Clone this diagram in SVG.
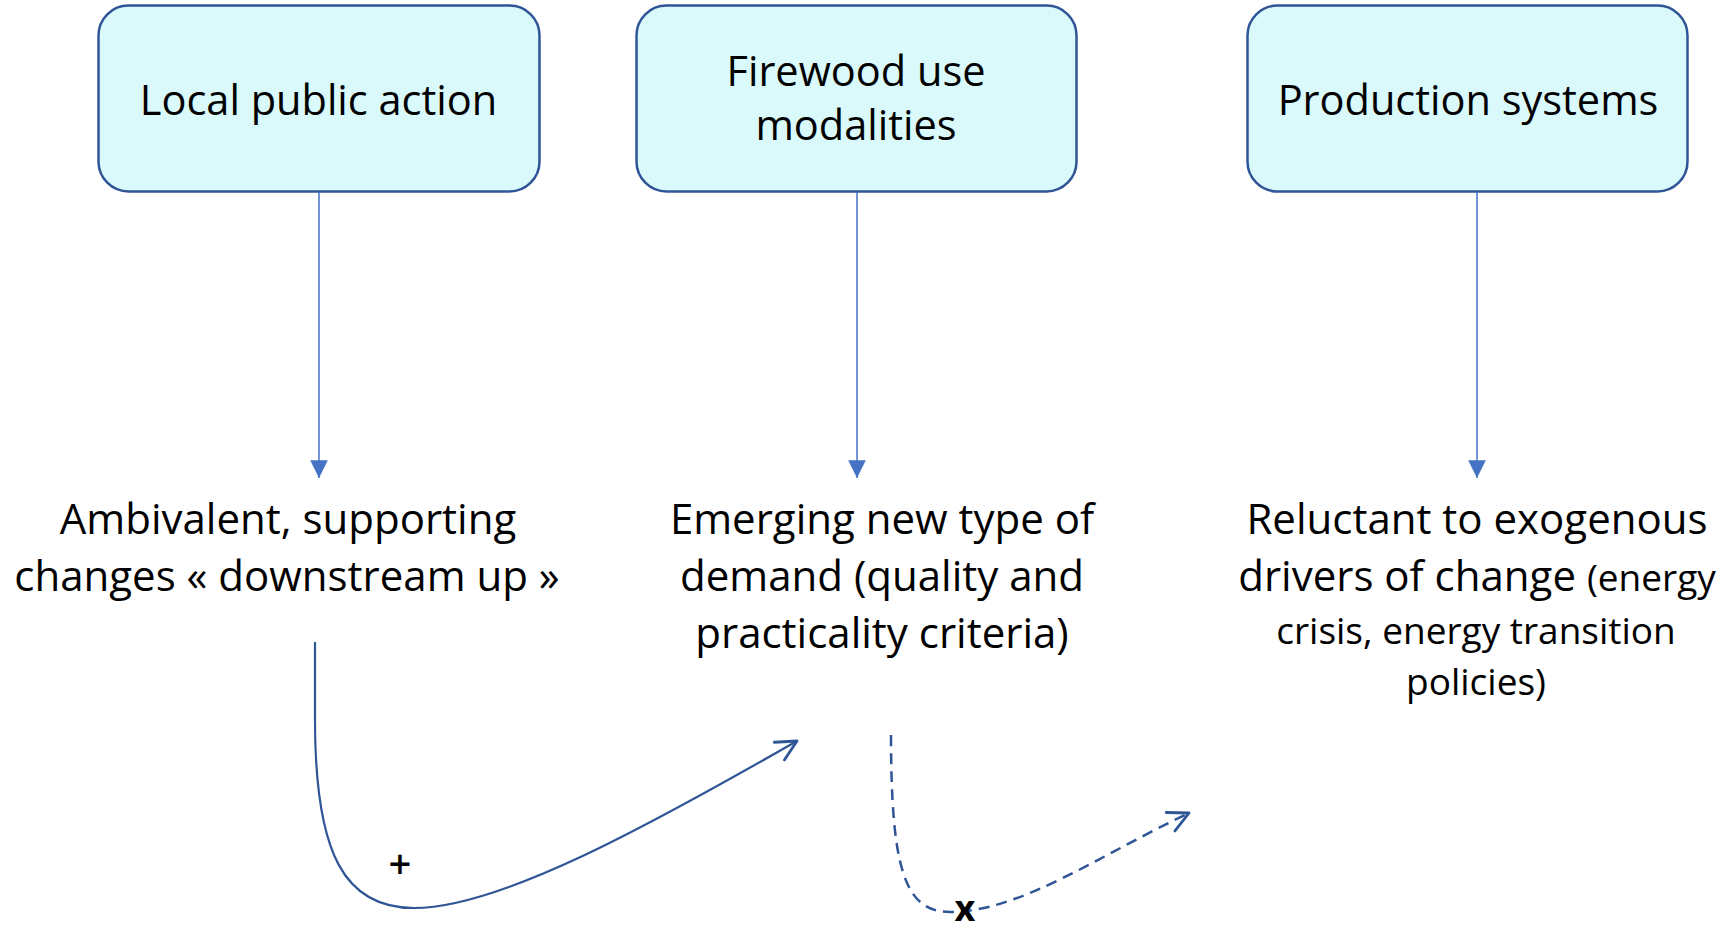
<svg xmlns="http://www.w3.org/2000/svg" width="1729" height="930" viewBox="0 0 1729 930">
  <style>
    .box { fill: #DAF9FA; stroke: #2F5597; stroke-width: 2.5; }
    .t { font-family: "Open Sans", "Liberation Sans", sans-serif; fill: #000; text-anchor: middle; }
    .big { font-size: 41.5px; }
    .lbl { font-size: 42px; }
    .sm { font-size: 37px; }
    .drop { stroke: #4472C4; stroke-width: 1.5; fill: none; marker-end: url(#tri); }
    .flow { stroke: #2F5597; stroke-width: 2.2; fill: none; marker-end: url(#vee); }
    .dash { stroke-width: 2.5; stroke-dasharray: 11 7; }
  </style>
  <defs>
    <marker id="tri" markerUnits="userSpaceOnUse" markerWidth="20" markerHeight="20" viewBox="-16 -8 17 16" refX="0" refY="0" orient="auto">
      <path d="M-15,-7.5 L0,0 L-15,7.5 Z" fill="#4472C4"/>
    </marker>
    <marker id="vee" markerUnits="userSpaceOnUse" markerWidth="26" markerHeight="26" viewBox="-21 -11 23 22" refX="0" refY="0" orient="auto">
      <path d="M-18,-9 L0,0 L-18,9" fill="none" stroke="#2F5597" stroke-width="2.5" stroke-linecap="round" stroke-linejoin="round"/>
    </marker>
  </defs>

  <!-- top row: the three actors -->
  <g id="node-local-public-action">
    <rect class="box" x="98.5" y="5.5" width="441" height="186" rx="30"/>
    <text class="t big" x="318.5" y="115">Local public action</text>
  </g>
  <g id="node-firewood-use">
    <rect class="box" x="636.5" y="5.5" width="440" height="186" rx="30"/>
    <text class="t big" x="856" y="86">Firewood use</text>
    <text class="t big" x="856" y="140">modalities</text>
  </g>
  <g id="node-production-systems">
    <rect class="box" x="1247.5" y="5.5" width="440" height="186" rx="30"/>
    <text class="t big" x="1468" y="115">Production systems</text>
  </g>

  <!-- bottom row: how each actor behaves -->
  <g id="node-ambivalent">
    <text class="t lbl" x="288" y="534">Ambivalent, supporting</text>
    <text class="t lbl" x="287" y="591">changes « downstream up »</text>
  </g>
  <g id="node-emerging-demand">
    <text class="t lbl" x="882" y="534">Emerging new type of</text>
    <text class="t lbl" x="882" y="591">demand (quality and</text>
    <text class="t lbl" x="882" y="648">practicality criteria)</text>
  </g>
  <g id="node-reluctant">
    <text class="t lbl" x="1477" y="534">Reluctant to exogenous</text>
    <text class="t lbl" x="1477" y="591">drivers of change <tspan class="sm">(energy</tspan></text>
    <text class="t sm" x="1476" y="644">crisis, energy transition</text>
    <text class="t sm" x="1476" y="695">policies)</text>
  </g>

  <!-- connectors -->
  <g id="connectors">
    <line class="drop" x1="319" y1="192" x2="319" y2="478"/>
    <line class="drop" x1="857" y1="192" x2="857" y2="478"/>
    <line class="drop" x1="1477" y1="192" x2="1477" y2="478"/>
    <path class="flow" d="M315,642 L315,720 C315,855 345,908 414,908 C500,908 650,825 797,741"/>
    <path class="flow dash" d="M891,735 C891,870 905,912 950,912 C1020,912 1100,855 1189,813"/>
    <text class="t" x="400" y="878" font-size="40" font-weight="600">+</text>
    <text class="t" x="965" y="921" font-size="36" font-weight="bold">x</text>
  </g>
</svg>
